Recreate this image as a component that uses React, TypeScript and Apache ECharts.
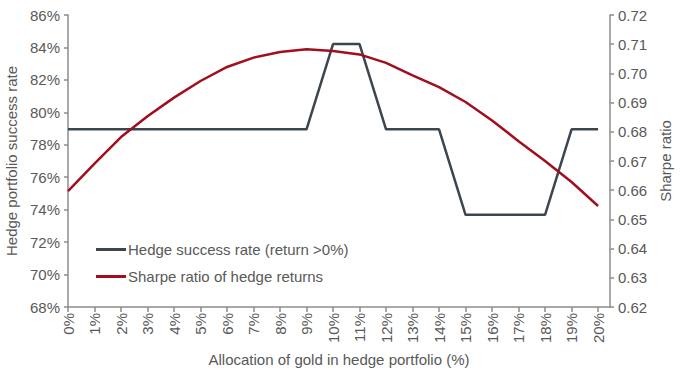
import React, { useEffect, useRef } from "react";
import * as echarts from "echarts";

const allocation = [0, 1, 2, 3, 4, 5, 6, 7, 8, 9, 10, 11, 12, 13, 14, 15, 16, 17, 18, 19, 20];
const successRate = [
  78.95, 78.95, 78.95, 78.95, 78.95, 78.95, 78.95, 78.95, 78.95, 78.95,
  84.21, 84.21, 78.95, 78.95, 78.95, 73.68, 73.68, 73.68, 73.68, 78.95, 78.95,
];
const sharpe = [
  0.6597, 0.6691, 0.6782, 0.6853, 0.6917, 0.6974, 0.7022, 0.7054, 0.7073, 0.7083,
  0.7077, 0.7065, 0.7036, 0.6993, 0.6953, 0.6902, 0.6839, 0.6768, 0.67, 0.6628, 0.6546,
];
const seriesNames = ["Hedge success rate (return >0%)", "Sharpe ratio of hedge returns"];

const FONT = "Liberation Sans, Arial, sans-serif";
const TXT = "#595959";
const AX = "#8c8c8c";
const FS = 15;

export default function App() {
  const ref = useRef<HTMLDivElement>(null);
  useEffect(() => {
    if (!ref.current) return;
    document.body.style.margin = "0";
    const chart = echarts.init(ref.current, undefined, { renderer: "svg" });
    chart.setOption({
      animation: false,
      textStyle: { fontFamily: FONT },
      grid: { left: 68, right: 70, top: 15, bottom: 67, outerBoundsMode: "none", containLabel: false },
      legend: {
        orient: "vertical",
        left: 91,
        top: 237,
        itemWidth: 30,
        itemHeight: 3,
        itemGap: 12,
        icon: "rect",
        textStyle: { fontFamily: FONT, fontSize: FS, color: TXT, padding: [0, 0, 0, -3] },
        data: seriesNames,
      },
      xAxis: {
        type: "value",
        min: 0,
        max: 20.45,
        interval: 1,
        name: "Allocation of gold in hedge portfolio (%)",
        nameLocation: "middle",
        nameGap: 45,
        nameTextStyle: { fontFamily: FONT, fontSize: FS, color: TXT },
        splitLine: { show: false },
        axisLine: { lineStyle: { color: AX, width: 1.5 } },
        axisTick: { show: true, length: 5, lineStyle: { color: AX, width: 1.5 }, customValues: allocation },
        axisLabel: {
          rotate: 90,
          fontSize: FS,
          color: TXT,
          fontFamily: FONT,
          margin: 6,
          customValues: allocation,
          formatter: (v: number) => `${v}%`,
        },
      },
      yAxis: [
        {
          type: "value",
          min: 68,
          max: 86,
          interval: 2,
          name: "Hedge portfolio success rate",
          nameLocation: "middle",
          nameGap: 46,
          nameTextStyle: { fontFamily: FONT, fontSize: FS, color: TXT },
          splitLine: { show: false },
          axisLine: { show: true, lineStyle: { color: AX, width: 1.5 } },
          axisTick: { show: true, length: 4, lineStyle: { color: AX, width: 1.5 } },
          axisLabel: { fontSize: FS, color: TXT, fontFamily: FONT, margin: 8, formatter: (v: number) => `${v}%` },
        },
        {
          type: "value",
          min: 0.62,
          max: 0.72,
          interval: 0.01,
          name: "Sharpe ratio",
          nameLocation: "middle",
          nameGap: 48,
          nameTextStyle: { fontFamily: FONT, fontSize: FS, color: TXT },
          splitLine: { show: false },
          axisLine: { show: true, lineStyle: { color: AX, width: 1.5 } },
          axisTick: { show: true, length: 4, lineStyle: { color: AX, width: 1.5 } },
          axisLabel: { fontSize: FS, color: TXT, fontFamily: FONT, margin: 8, formatter: (v: number) => v.toFixed(2) },
        },
      ],
      series: [
        {
          name: seriesNames[0],
          type: "line",
          yAxisIndex: 0,
          data: allocation.map((a, i) => [a, successRate[i]]),
          showSymbol: false,
          symbol: "none",
          lineStyle: { color: "#3b4650", width: 2.5 },
          itemStyle: { color: "#3b4650" },
        },
        {
          name: seriesNames[1],
          type: "line",
          yAxisIndex: 1,
          data: allocation.map((a, i) => [a, sharpe[i]]),
          showSymbol: false,
          symbol: "none",
          lineStyle: { color: "#a20e1e", width: 2.5 },
          itemStyle: { color: "#a20e1e" },
        },
      ],
    });
    return () => chart.dispose();
  }, []);
  return <div ref={ref} style={{ width: 680, height: 374 }} />;
}
